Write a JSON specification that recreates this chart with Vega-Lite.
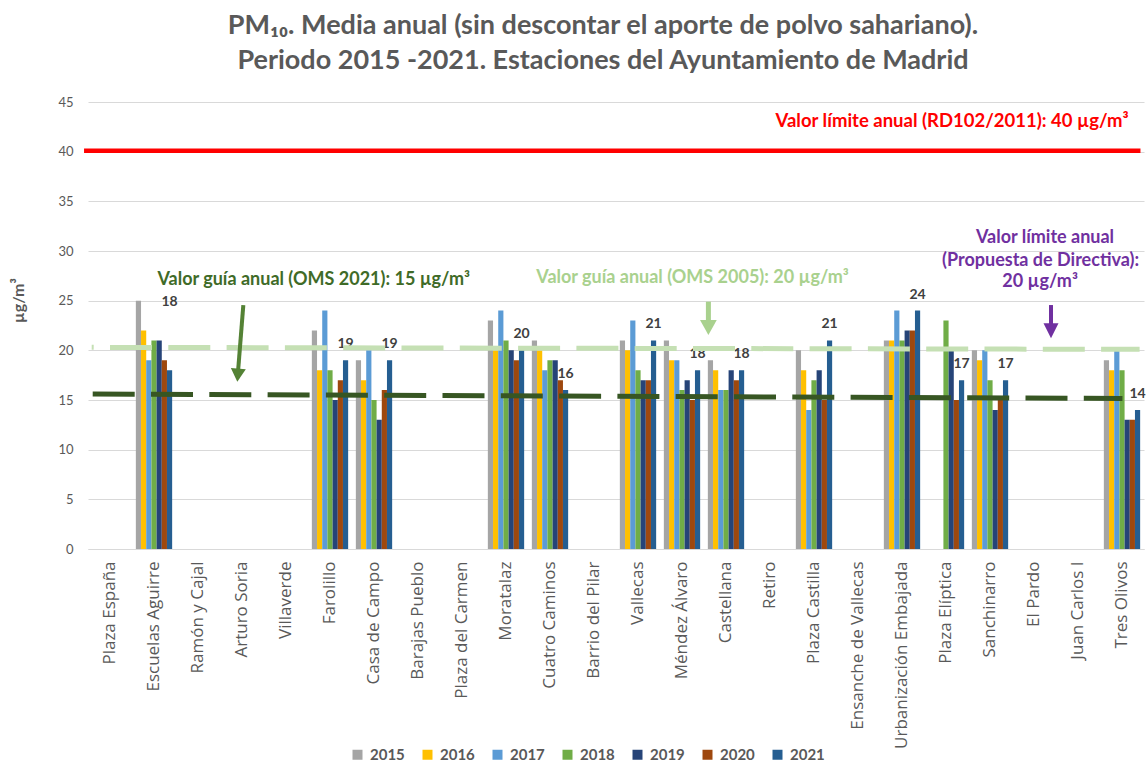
{
  "$schema": "https://vega.github.io/schema/vega-lite/v6.json",
  "width": 1056,
  "height": 447,
  "autosize": "none",
  "padding": {"left": 88, "top": 102, "right": 4, "bottom": 213},
  "title": {
    "text": ["PM₁₀.  Media anual (sin descontar el aporte de polvo sahariano).", "Periodo 2015 -2021. Estaciones del Ayuntamiento de Madrid"],
    "font": "Lato", "fontSize": 27, "fontWeight": "bold", "color": "#595959",
    "lineHeight": 35, "anchor": "middle", "frame": "group", "dx": -13, "offset": 21
  },
  "config": {"font": "Lato", "view": {"stroke": null}},
  "datasets": {
    "pm": [
      {"station": "Escuelas Aguirre", "year": "2015", "value": 25},
      {"station": "Escuelas Aguirre", "year": "2016", "value": 22},
      {"station": "Escuelas Aguirre", "year": "2017", "value": 19},
      {"station": "Escuelas Aguirre", "year": "2018", "value": 21},
      {"station": "Escuelas Aguirre", "year": "2019", "value": 21},
      {"station": "Escuelas Aguirre", "year": "2020", "value": 19},
      {"station": "Escuelas Aguirre", "year": "2021", "value": 18},
      {"station": "Farolillo", "year": "2015", "value": 22},
      {"station": "Farolillo", "year": "2016", "value": 18},
      {"station": "Farolillo", "year": "2017", "value": 24},
      {"station": "Farolillo", "year": "2018", "value": 18},
      {"station": "Farolillo", "year": "2019", "value": 15},
      {"station": "Farolillo", "year": "2020", "value": 17},
      {"station": "Farolillo", "year": "2021", "value": 19},
      {"station": "Casa de Campo", "year": "2015", "value": 19},
      {"station": "Casa de Campo", "year": "2016", "value": 17},
      {"station": "Casa de Campo", "year": "2017", "value": 20},
      {"station": "Casa de Campo", "year": "2018", "value": 15},
      {"station": "Casa de Campo", "year": "2019", "value": 13},
      {"station": "Casa de Campo", "year": "2020", "value": 16},
      {"station": "Casa de Campo", "year": "2021", "value": 19},
      {"station": "Moratalaz", "year": "2015", "value": 23},
      {"station": "Moratalaz", "year": "2016", "value": 20},
      {"station": "Moratalaz", "year": "2017", "value": 24},
      {"station": "Moratalaz", "year": "2018", "value": 21},
      {"station": "Moratalaz", "year": "2019", "value": 20},
      {"station": "Moratalaz", "year": "2020", "value": 19},
      {"station": "Moratalaz", "year": "2021", "value": 20},
      {"station": "Cuatro Caminos", "year": "2015", "value": 21},
      {"station": "Cuatro Caminos", "year": "2016", "value": 20},
      {"station": "Cuatro Caminos", "year": "2017", "value": 18},
      {"station": "Cuatro Caminos", "year": "2018", "value": 19},
      {"station": "Cuatro Caminos", "year": "2019", "value": 19},
      {"station": "Cuatro Caminos", "year": "2020", "value": 17},
      {"station": "Cuatro Caminos", "year": "2021", "value": 16},
      {"station": "Vallecas", "year": "2015", "value": 21},
      {"station": "Vallecas", "year": "2016", "value": 20},
      {"station": "Vallecas", "year": "2017", "value": 23},
      {"station": "Vallecas", "year": "2018", "value": 18},
      {"station": "Vallecas", "year": "2019", "value": 17},
      {"station": "Vallecas", "year": "2020", "value": 17},
      {"station": "Vallecas", "year": "2021", "value": 21},
      {"station": "Méndez Álvaro", "year": "2015", "value": 21},
      {"station": "Méndez Álvaro", "year": "2016", "value": 19},
      {"station": "Méndez Álvaro", "year": "2017", "value": 19},
      {"station": "Méndez Álvaro", "year": "2018", "value": 16},
      {"station": "Méndez Álvaro", "year": "2019", "value": 17},
      {"station": "Méndez Álvaro", "year": "2020", "value": 15},
      {"station": "Méndez Álvaro", "year": "2021", "value": 18},
      {"station": "Castellana", "year": "2015", "value": 19},
      {"station": "Castellana", "year": "2016", "value": 18},
      {"station": "Castellana", "year": "2017", "value": 16},
      {"station": "Castellana", "year": "2018", "value": 16},
      {"station": "Castellana", "year": "2019", "value": 18},
      {"station": "Castellana", "year": "2020", "value": 17},
      {"station": "Castellana", "year": "2021", "value": 18},
      {"station": "Plaza Castilla", "year": "2015", "value": 20},
      {"station": "Plaza Castilla", "year": "2016", "value": 18},
      {"station": "Plaza Castilla", "year": "2017", "value": 14},
      {"station": "Plaza Castilla", "year": "2018", "value": 17},
      {"station": "Plaza Castilla", "year": "2019", "value": 18},
      {"station": "Plaza Castilla", "year": "2020", "value": 15},
      {"station": "Plaza Castilla", "year": "2021", "value": 21},
      {"station": "Urbanización Embajada", "year": "2015", "value": 21},
      {"station": "Urbanización Embajada", "year": "2016", "value": 21},
      {"station": "Urbanización Embajada", "year": "2017", "value": 24},
      {"station": "Urbanización Embajada", "year": "2018", "value": 21},
      {"station": "Urbanización Embajada", "year": "2019", "value": 22},
      {"station": "Urbanización Embajada", "year": "2020", "value": 22},
      {"station": "Urbanización Embajada", "year": "2021", "value": 24},
      {"station": "Plaza Elíptica", "year": "2018", "value": 23},
      {"station": "Plaza Elíptica", "year": "2019", "value": 20},
      {"station": "Plaza Elíptica", "year": "2020", "value": 15},
      {"station": "Plaza Elíptica", "year": "2021", "value": 17},
      {"station": "Sanchinarro", "year": "2015", "value": 20},
      {"station": "Sanchinarro", "year": "2016", "value": 19},
      {"station": "Sanchinarro", "year": "2017", "value": 20},
      {"station": "Sanchinarro", "year": "2018", "value": 17},
      {"station": "Sanchinarro", "year": "2019", "value": 14},
      {"station": "Sanchinarro", "year": "2020", "value": 15},
      {"station": "Sanchinarro", "year": "2021", "value": 17},
      {"station": "Tres Olivos", "year": "2015", "value": 19},
      {"station": "Tres Olivos", "year": "2016", "value": 18},
      {"station": "Tres Olivos", "year": "2017", "value": 20},
      {"station": "Tres Olivos", "year": "2018", "value": 18},
      {"station": "Tres Olivos", "year": "2019", "value": 13},
      {"station": "Tres Olivos", "year": "2020", "value": 13},
      {"station": "Tres Olivos", "year": "2021", "value": 14}
    ]
  },
  "resolve": {"scale": {"x": "independent"}},
  "layer": [
    {
      "data": {"name": "pm"},
      "layer": [
        {
          "mark": {"type": "bar"},
          "encoding": {
            "x": {
              "field": "station", "type": "nominal", "title": null,
              "scale": {
                "domain": ["Plaza España", "Escuelas Aguirre", "Ramón y Cajal", "Arturo Soria", "Villaverde", "Farolillo", "Casa de Campo", "Barajas Pueblo", "Plaza del Carmen", "Moratalaz", "Cuatro Caminos", "Barrio del Pilar", "Vallecas", "Méndez Álvaro", "Castellana", "Retiro", "Plaza Castilla", "Ensanche de Vallecas", "Urbanización Embajada", "Plaza Elíptica", "Sanchinarro", "El Pardo", "Juan Carlos I", "Tres Olivos"],
                "paddingInner": 0.175, "paddingOuter": 0.0875
              },
              "axis": {"labelAngle": -90, "labelFont": "Open Sans", "labelFontSize": 17, "labelColor": "#595959", "ticks": false, "domain": true, "domainColor": "#d9d9d9", "labelPadding": 12, "labelLimit": 300}
            },
            "xOffset": {"field": "year", "type": "nominal", "scale": {"domain": ["2015", "2016", "2017", "2018", "2019", "2020", "2021"], "paddingInner": 0, "paddingOuter": 0}},
            "y": {
              "field": "value", "type": "quantitative", "title": "µg/m³",
              "scale": {"domain": [0, 45], "nice": false},
              "axis": {"values": [0, 5, 10, 15, 20, 25, 30, 35, 40, 45], "grid": true, "gridColor": "#d9d9d9", "domain": false, "ticks": false, "labelColor": "#595959", "labelFontSize": 13, "labelPadding": 15, "titleX": -70, "titleY": 198, "titleAlign": "center", "titleBaseline": "middle", "titleFontSize": 16, "titleFontWeight": "bold", "titleColor": "#595959"}
            },
            "color": {
              "field": "year", "type": "nominal",
              "scale": {"domain": ["2015", "2016", "2017", "2018", "2019", "2020", "2021"], "range": ["#A5A5A5", "#FFC000", "#5B9BD5", "#70AD47", "#264478", "#9E480E", "#255E91"]},
              "legend": {"orient": "none", "legendX": 262, "legendY": 645, "direction": "horizontal", "title": null, "symbolType": "square", "symbolSize": 100, "labelFontSize": 15, "labelFontWeight": "bold", "labelColor": "#595959", "columnPadding": 15, "labelOffset": 5, "symbolStrokeWidth": 0}
            }
          }
        },
        {
          "transform": [{"filter": "datum.year == '2021' && datum.station != 'Escuelas Aguirre'"}],
          "mark": {"type": "text", "dy": -16, "fontSize": 14, "fontWeight": "bold", "color": "#404040", "baseline": "middle"},
          "encoding": {
            "x": {"field": "station", "type": "nominal"},
            "xOffset": {"field": "year", "type": "nominal"},
            "y": {"field": "value", "type": "quantitative", "title": "µg/m³"},
            "text": {"field": "value", "type": "quantitative"}
          }
        },
        {
          "transform": [{"filter": "datum.year == '2021' && datum.station == 'Escuelas Aguirre'"}],
          "mark": {"type": "text", "dy": -68, "fontSize": 14, "fontWeight": "bold", "color": "#404040", "baseline": "middle"},
          "encoding": {
            "x": {"field": "station", "type": "nominal"},
            "xOffset": {"field": "year", "type": "nominal"},
            "y": {"field": "value", "type": "quantitative", "title": "µg/m³"},
            "text": {"field": "value", "type": "quantitative"}
          }
        }
      ]
    },
    {
      "layer": [
        {
          "data": {"values": [{"guide": "OMS 2005", "pos": 0.084, "pos2": 23.9, "level": 20.3, "level2": 20.1}]},
          "mark": {"type": "rule", "color": "#C5E0B4", "strokeWidth": 5, "strokeDash": [42, 16.3], "strokeDashOffset": 40, "strokeCap": "butt"},
          "encoding": {
            "x": {"field": "pos", "type": "quantitative", "scale": {"domain": [0, 24], "nice": false, "zero": false}, "axis": null},
            "x2": {"field": "pos2"},
            "y": {"field": "level", "type": "quantitative", "title": "µg/m³"},
            "y2": {"field": "level2"}
          }
        },
        {
          "data": {"values": [{"guide": "OMS 2021", "pos": 0.107, "pos2": 23.51, "level": 15.6, "level2": 15.15}]},
          "mark": {"type": "rule", "color": "#375623", "strokeWidth": 5, "strokeDash": [42, 16.3], "strokeCap": "butt"},
          "encoding": {
            "x": {"field": "pos", "type": "quantitative", "axis": null},
            "x2": {"field": "pos2"},
            "y": {"field": "level", "type": "quantitative", "title": "µg/m³"},
            "y2": {"field": "level2"}
          }
        },
        {
          "data": {"values": [{"guide": "RD102/2011", "pos": -0.09, "pos2": 23.92, "level": 40.1}]},
          "mark": {"type": "rule", "color": "#FF0000", "strokeWidth": 4.5},
          "encoding": {
            "x": {"field": "pos", "type": "quantitative", "axis": null},
            "x2": {"field": "pos2"},
            "y": {"field": "level", "type": "quantitative", "title": "µg/m³"}
          }
        },
        {
          "data": {"values": [{"pos": 3.53, "level": 24.56, "pos2": 3.409, "level2": 17.82}]},
          "mark": {"type": "rule", "color": "#548235", "strokeWidth": 4},
          "encoding": {
            "x": {"field": "pos", "type": "quantitative", "axis": null},
            "x2": {"field": "pos2"},
            "y": {"field": "level", "type": "quantitative", "title": "µg/m³"},
            "y2": {"field": "level2"}
          }
        },
        {
          "data": {"values": [{"pos": 3.405, "level": 17.5}]},
          "mark": {"type": "point", "shape": "M-1,-0.87L1,-0.87L0,0.87Z", "size": 225, "filled": true, "opacity": 1, "color": "#548235", "angle": 4.5, "strokeWidth": 0},
          "encoding": {
            "x": {"field": "pos", "type": "quantitative", "axis": null},
            "y": {"field": "level", "type": "quantitative", "title": "µg/m³"}
          }
        },
        {
          "data": {"values": [{"pos": 14.1, "level": 24.9, "level2": 22.85}]},
          "mark": {"type": "rule", "color": "#A9D18E", "strokeWidth": 5},
          "encoding": {
            "x": {"field": "pos", "type": "quantitative", "axis": null},
            "y": {"field": "level", "type": "quantitative", "title": "µg/m³"},
            "y2": {"field": "level2"}
          }
        },
        {
          "data": {"values": [{"pos": 14.1, "level": 22.3}]},
          "mark": {"type": "point", "shape": "M-1,-0.9L1,-0.9L0,0.9Z", "size": 280, "filled": true, "opacity": 1, "color": "#A9D18E", "strokeWidth": 0},
          "encoding": {
            "x": {"field": "pos", "type": "quantitative", "axis": null},
            "y": {"field": "level", "type": "quantitative", "title": "µg/m³"}
          }
        },
        {
          "data": {"values": [{"pos": 21.886, "level": 24.56, "level2": 22.45}]},
          "mark": {"type": "rule", "color": "#7030A0", "strokeWidth": 4},
          "encoding": {
            "x": {"field": "pos", "type": "quantitative", "axis": null},
            "y": {"field": "level", "type": "quantitative", "title": "µg/m³"},
            "y2": {"field": "level2"}
          }
        },
        {
          "data": {"values": [{"pos": 21.886, "level": 21.97}]},
          "mark": {"type": "point", "shape": "M-1,-1L1,-1L0,1Z", "size": 225, "filled": true, "opacity": 1, "color": "#7030A0", "strokeWidth": 0},
          "encoding": {
            "x": {"field": "pos", "type": "quantitative", "axis": null},
            "y": {"field": "level", "type": "quantitative", "title": "µg/m³"}
          }
        },
        {
          "data": {"values": [{"note": "Valor límite anual (RD102/2011): 40 µg/m³", "pos": 19.64, "level": 43.09}]},
          "mark": {"type": "text", "fontSize": 18.5, "fontWeight": "bold", "color": "#FF0000", "align": "center", "baseline": "middle"},
          "encoding": {
            "x": {"field": "pos", "type": "quantitative", "axis": null},
            "y": {"field": "level", "type": "quantitative", "title": "µg/m³"},
            "text": {"field": "note"}
          }
        },
        {
          "data": {"values": [{"note": "Valor guía anual (OMS 2021): 15 µg/m³", "pos": 5.13, "level": 27.08}]},
          "mark": {"type": "text", "fontSize": 18, "fontWeight": "bold", "color": "#3F6B28", "align": "center", "baseline": "middle"},
          "encoding": {
            "x": {"field": "pos", "type": "quantitative", "axis": null},
            "y": {"field": "level", "type": "quantitative", "title": "µg/m³"},
            "text": {"field": "note"}
          }
        },
        {
          "data": {"values": [{"note": "Valor guía anual (OMS 2005): 20 µg/m³", "pos": 13.74, "level": 27.28}]},
          "mark": {"type": "text", "fontSize": 18, "fontWeight": "bold", "color": "#A9D18E", "align": "center", "baseline": "middle"},
          "encoding": {
            "x": {"field": "pos", "type": "quantitative", "axis": null},
            "y": {"field": "level", "type": "quantitative", "title": "µg/m³"},
            "text": {"field": "note"}
          }
        },
        {
          "data": {"values": [
            {"note": "Valor límite anual", "pos": 21.75, "level": 31.28},
            {"note": "(Propuesta de Directiva):", "pos": 21.65, "level": 29.01},
            {"note": "20 µg/m³", "pos": 21.64, "level": 26.83}
          ]},
          "mark": {"type": "text", "fontSize": 18, "fontWeight": "bold", "color": "#7030A0", "align": "center", "baseline": "middle"},
          "encoding": {
            "x": {"field": "pos", "type": "quantitative", "axis": null},
            "y": {"field": "level", "type": "quantitative", "title": "µg/m³"},
            "text": {"field": "note"}
          }
        }
      ]
    }
  ]
}
